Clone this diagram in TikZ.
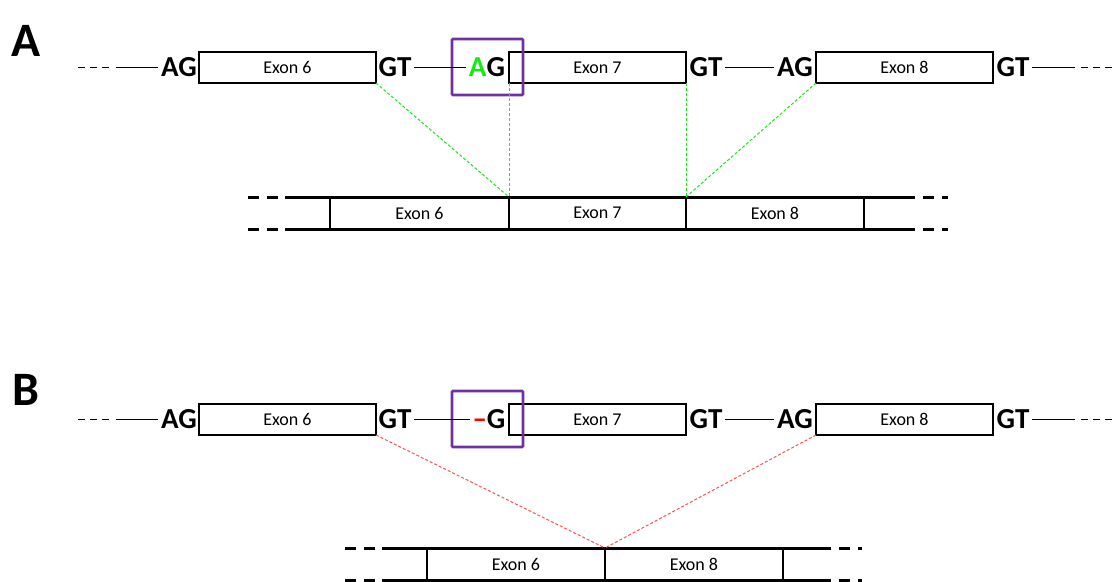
\documentclass[tikz,border=0pt]{standalone}
\usepackage{fontspec}
\setmainfont{Carlito}
\usepackage{xcolor}
\usepackage{tikz}
\usetikzlibrary{positioning}
\definecolor{boxpurple}{RGB}{112,48,160}
\definecolor{splicegreen}{RGB}{20,235,20}
\definecolor{splicered}{RGB}{255,80,80}

\begin{document}
\begin{tikzpicture}[x=1pt, y=-1pt, line cap=butt]
\tikzset{
    exonbox/.style = {draw=black, line width=2.2pt, minimum height=31pt, inner sep=0pt, outer sep=0pt, font=\fontsize{18}{18}\selectfont},
    mrnabox/.style = {draw=black, line width=2pt, minimum height=32pt, inner sep=0pt, outer sep=0pt, font=\fontsize{18}{18}\selectfont},
    sitetag/.style = {inner sep=0pt, outer sep=3pt, font=\fontsize{29}{29}\selectfont\bfseries},
    panel/.style = {inner sep=0pt, font=\fontsize{48}{48}\selectfont\bfseries},
    sitebox/.style = {draw=boxpurple, line width=2.6pt, rounded corners=1pt, inner sep=0pt, minimum width=71pt, minimum height=56pt},
    intron/.style = {line width=1.5pt},
    introndash/.style = {line width=1.5pt, dash pattern=on 7pt off 5pt},
    mrna/.style = {line width=3pt},
    mrnadash/.style = {line width=3pt, dash pattern=on 11pt off 8pt},
    joinA/.style = {splicegreen, line width=1pt, dash pattern=on 3pt off 2pt},
    joinB/.style = {splicered, line width=1pt, dash pattern=on 3pt off 2pt}
}
\useasboundingbox (0,0) rectangle (1115,581);

% A: normal splicing
\node[panel] (labA) at (26,41) {A};
\node[exonbox, minimum width=177pt] (E6) at (287.5,67.5) {Exon 6};
\node[exonbox, minimum width=177pt] (E7) at (597.5,67.5) {Exon 7};
\node[exonbox, minimum width=177pt] (E8) at (904.5,67.5) {Exon 8};
\node[sitetag] (AG6) at (179,67.5) {AG};
\node[sitetag] (GT6) at (395,67.5) {GT};
\node[sitetag] (AG7) at (487,67.5) {\textcolor{splicegreen}{A}G};
\node[sitetag] (GT7) at (706,67.5) {GT};
\node[sitetag] (AG8) at (795,67.5) {AG};
\node[sitetag] (GT8) at (1013,67.5) {GT};
\node[sitebox] (siteA) at (487.5,67) {};
\coordinate (inA1) at (78,67.5);
\coordinate (inA2) at (109,67.5);
\coordinate (inA3) at (116,67.5);
\coordinate (inA4) at (1075,67.5);
\coordinate (inA5) at (1081,67.5);
\coordinate (inA6) at (1115,67.5);
\draw[introndash] (inA1) -- (inA2);
\draw[intron] (inA3) -- (AG6.west);
\draw[intron] (GT6.east) -- (AG7.west);
\draw[intron] (GT7.east) -- (AG8.west);
\draw[intron] (GT8.east) -- (inA4);
\draw[introndash] (inA5) -- (inA6);

\node[mrnabox, minimum width=179pt] (m6) at (419.5,213) {Exon 6};
\node[mrnabox, minimum width=177pt, right=0pt of m6] (m7) {Exon 7};
\node[mrnabox, minimum width=178pt, right=0pt of m7] (m8) {Exon 8};
\coordinate (mA1) at (248,197);
\coordinate (mA2) at (285,197);
\coordinate (mA3) at (904,197);
\coordinate (mA4) at (948,197);
\coordinate (mA5) at (248,229);
\coordinate (mA6) at (285,229);
\coordinate (mA7) at (904,229);
\coordinate (mA8) at (948,229);
\draw[mrnadash] (mA1) -- (mA2);
\draw[mrna] (mA2) -- (m6.north west) -- (m8.north east) -- (mA3);
\draw[mrnadash] (mA3) -- (mA4);
\draw[mrnadash] (mA5) -- (mA6);
\draw[mrna] (mA6) -- (m6.south west) -- (m8.south east) -- (mA7);
\draw[mrnadash] (mA7) -- (mA8);

\draw[joinA] (E6.south east) -- (m7.north west);
\draw[joinA] (E7.south west) -- (m7.north west);
\draw[joinA] (E7.south east) -- (m8.north west);
\draw[joinA] (E8.south west) -- (m8.north west);

% B: A deleted, exon 7 skipped
\node[panel] (labB) at (26,390) {B};
\node[exonbox, minimum width=177pt] (E6b) at (287.5,419.5) {Exon 6};
\node[exonbox, minimum width=177pt] (E7b) at (597.5,419.5) {Exon 7};
\node[exonbox, minimum width=177pt] (E8b) at (904.5,419.5) {Exon 8};
\node[sitetag] (AG6b) at (179,419.5) {AG};
\node[sitetag] (GT6b) at (395,419.5) {GT};
\node[sitetag] (AG7b) at (489,419.5) {\textcolor{red}{\char"2013}G};
\node[sitetag] (GT7b) at (706,419.5) {GT};
\node[sitetag] (AG8b) at (795,419.5) {AG};
\node[sitetag] (GT8b) at (1013,419.5) {GT};
\node[sitebox] (siteB) at (487.5,419) {};
\coordinate (inB1) at (78,419.5);
\coordinate (inB2) at (109,419.5);
\coordinate (inB3) at (116,419.5);
\coordinate (inB4) at (1075,419.5);
\coordinate (inB5) at (1081,419.5);
\coordinate (inB6) at (1115,419.5);
\draw[introndash] (inB1) -- (inB2);
\draw[intron] (inB3) -- (AG6b.west);
\draw[intron] (GT6b.east) -- (AG7b.west);
\draw[intron] (GT7b.east) -- (AG8b.west);
\draw[intron] (GT8b.east) -- (inB4);
\draw[introndash] (inB5) -- (inB6);

\node[mrnabox, minimum width=178pt] (m6b) at (516,564) {Exon 6};
\node[mrnabox, minimum width=178pt, right=0pt of m6b] (m8b) {Exon 8};
\coordinate (mB1) at (345,548);
\coordinate (mB2) at (382,548);
\coordinate (mB3) at (820,548);
\coordinate (mB4) at (862,548);
\coordinate (mB5) at (345,580);
\coordinate (mB6) at (382,580);
\coordinate (mB7) at (820,580);
\coordinate (mB8) at (862,580);
\draw[mrnadash] (mB1) -- (mB2);
\draw[mrna] (mB2) -- (m6b.north west) -- (m8b.north east) -- (mB3);
\draw[mrnadash] (mB3) -- (mB4);
\draw[mrnadash] (mB5) -- (mB6);
\draw[mrna] (mB6) -- (m6b.south west) -- (m8b.south east) -- (mB7);
\draw[mrnadash] (mB7) -- (mB8);

\draw[joinB] (E6b.south east) -- (m8b.north west);
\draw[joinB] (E8b.south west) -- (m8b.north west);
\end{tikzpicture}
\end{document}
